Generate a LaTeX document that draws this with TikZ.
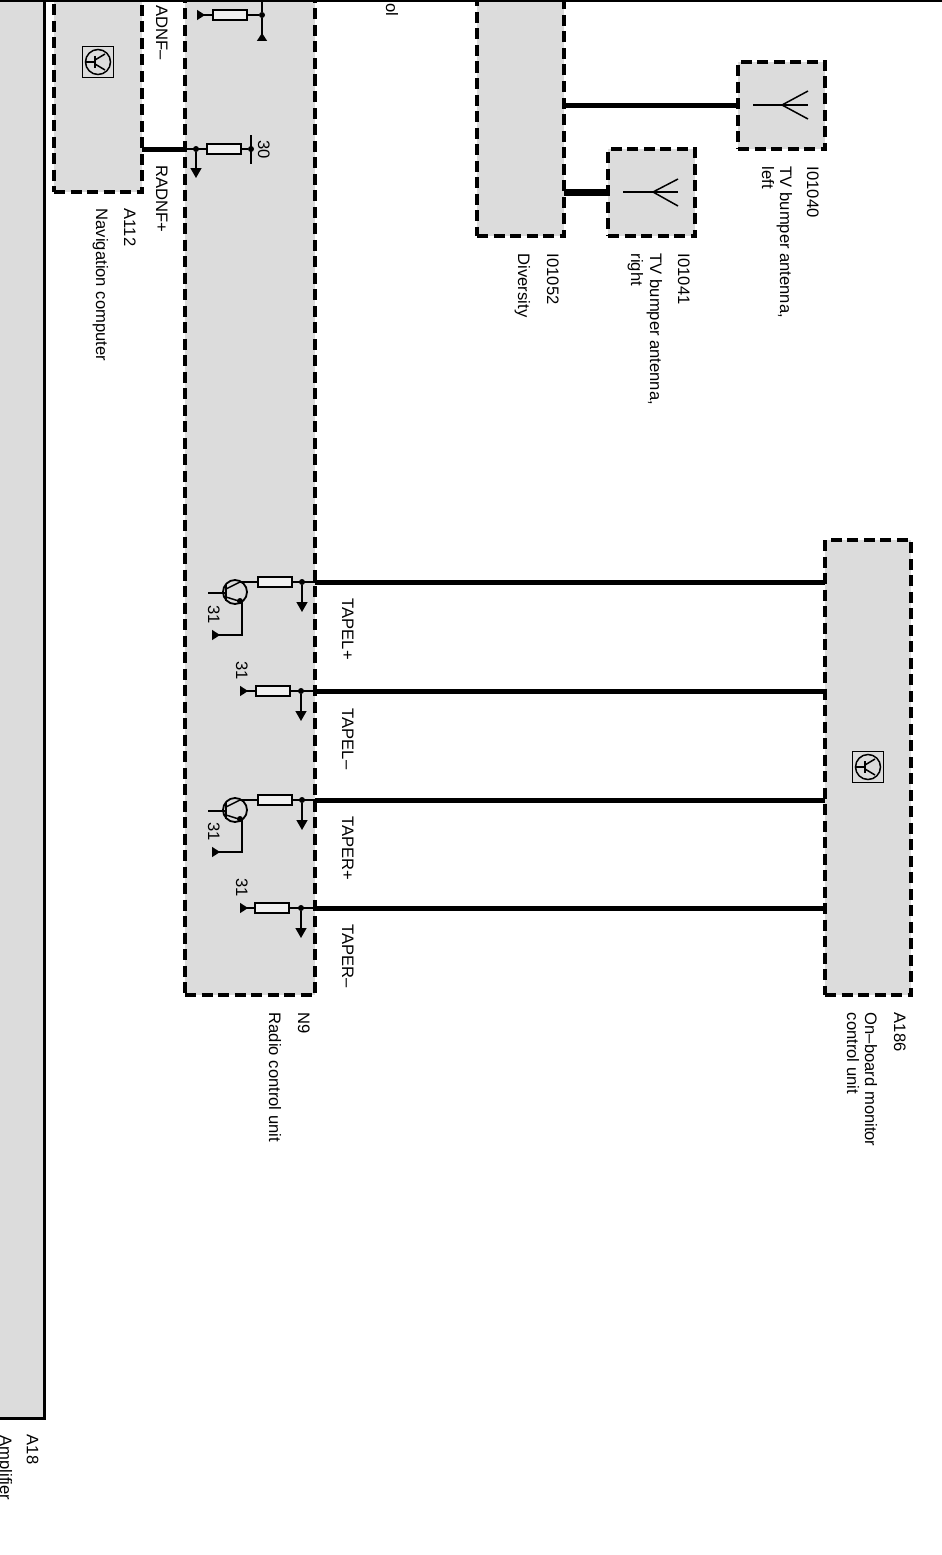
\documentclass[tikz,border=0pt]{standalone}
\usepackage{fontspec}
\setmainfont{Liberation Sans}
\usetikzlibrary{arrows.meta}

\definecolor{boxgray}{HTML}{DCDCDC}

\begin{document}
\begin{tikzpicture}[x=1pt,y=-1pt,line width=1.5pt,
	box/.style={draw,fill=boxgray,line width=3.4pt,dash pattern=on 11pt off 5.5pt,outer sep=0pt,inner sep=0pt,anchor=south west},
	wire/.style={line width=5pt},
	res/.style={draw,fill=boxgray!40,minimum width=34pt,minimum height=10pt,inner sep=0pt,outer sep=0pt},
	dotn/.style={circle,fill=black,minimum size=6pt,inner sep=0pt,outer sep=0pt},
	lab/.style={rotate=-90,anchor=base west,inner sep=0pt,font=\fontsize{16.6}{18}\selectfont},
	tipdown/.style={-{Triangle[length=10pt,width=11pt]}},
	tipgnd/.style={-{Triangle[reversed,length=8pt,width=10pt]}},
	tran/.pic={
		\node[circle,draw,line width=1.8pt,minimum size=24pt,inner sep=0pt] (-c) at (0,0) {};
		\coordinate (-col) at (5,-10);
		\coordinate (-em) at (7,10);
		\draw (-27,1) -- (-9,1);
		\draw[line width=2pt] (-9,-7) -- (-9,9);
		\draw (-9,-3) -- (-col);
		\draw (-9,5) -- (-em);
		\node[dotn] (-d) at (5,9) {};
	},
	icon/.pic={
		\node[draw,line width=1.8pt,minimum size=31pt,inner sep=0pt] (-s) at (0,0) {};
		\node[circle,draw,minimum size=25pt,inner sep=0pt] (-c) at (0,0) {};
		\draw (-12,0) -- (-3,0);
		\draw[line width=2pt] (-3,-6) -- (-3,6);
		\draw (-3,-2) -- (7,-8);
		\draw (-3,2) -- (7,8);
	}]
	\clip (0,0) rectangle (942,1555);
	% boxes
	\node[draw,fill=boxgray,line width=3pt,minimum width=64pt,minimum height=1438pt,inner sep=0pt,outer sep=0pt,anchor=south west] (a18) at (-20,1418) {};
	\node[box,minimum width=88pt,minimum height=212pt] (a112) at (54,192) {};
	\node[box,minimum width=130pt,minimum height=1015pt] (n9) at (185,995) {};
	\node[box,minimum width=87pt,minimum height=256pt] (diversity) at (477,236) {};
	\node[box,minimum width=87pt,minimum height=87pt] (tvright) at (608,236) {};
	\node[box,minimum width=87pt,minimum height=87pt] (tvleft) at (738,149) {};
	\node[box,minimum width=86pt,minimum height=455pt] (a186) at (825,995) {};
	\coordinate (topl) at (0,1);
	\coordinate (topr) at (942,1);
	\draw[line width=2.6pt] (topl) -- (topr);

	% icons
	\pic (icona) at (98,62) {icon};
	\pic (iconb) at (868,767) {icon};

	% antennas
	\coordinate (antl) at (753,105);
	\coordinate (antlf) at (782,105);
	\coordinate (antle) at (808,105);
	\coordinate (antlu) at (808,91);
	\coordinate (antld) at (808,119);
	\draw (antl) -- (antle);
	\draw (antlf) -- (antlu);
	\draw (antlf) -- (antld);
	\coordinate (antr) at (623,192);
	\coordinate (antrf) at (653,192);
	\coordinate (antre) at (678,192);
	\coordinate (antru) at (678,179);
	\coordinate (antrd) at (678,206);
	\draw (antr) -- (antre);
	\draw (antrf) -- (antru);
	\draw (antrf) -- (antrd);
	\draw[wire] (diversity.east |- antl) -- (tvleft.west |- antl);
	\draw[wire,line width=7pt] (diversity.east |- antr) -- (tvright.west |- antr);

	% RADNF-
	\node[res] (rradm) at (230,15) {};
	\node[dotn] (dradm) at (262,15) {};
	\coordinate (gradm) at (197,15);
	\coordinate (tradm) at (262,0);
	\coordinate (aradm) at (262,41);
	\draw[tipgnd] (rradm) -- (gradm);
	\draw (rradm) -- (dradm);
	\draw (tradm) -- (dradm);
	\draw[tipgnd] (dradm) -- (aradm);

	% RADNF+
	\node[res] (rradp) at (224,149) {};
	\node[dotn] (dradp) at (196,149) {};
	\node[dotn] (bradp) at (251,149) {};
	\coordinate (aradp) at (196,178);
	\coordinate (uradp) at (251,135);
	\coordinate (lradp) at (251,164);
	\draw[wire] (a112.east |- rradp) -- (n9.west |- rradp);
	\draw (n9.west |- rradp) -- (rradp);
	\draw (rradp) -- (bradp);
	\draw (uradp) -- (lradp);
	\draw[tipdown] (dradp) -- (aradp);

	% TAPEL+
	\node[res] (rla) at (275,582) {};
	\node[dotn] (dla) at (302,582) {};
	\coordinate (ala) at (302,612);
	\coordinate (gla) at (212,635);
	\pic (qla) at (235,592) {tran};
	\draw[wire] (n9.east |- rla) -- (a186.west |- rla);
	\draw (n9.east |- rla) -- (rla);
	\draw (rla) -- (qla-col);
	\draw[tipdown] (dla) -- (ala);
	\draw[tipgnd] (qla-em) |- (gla);

	% TAPEL-
	\node[res] (rlb) at (273,691) {};
	\node[dotn] (dlb) at (301,691) {};
	\coordinate (alb) at (301,721);
	\coordinate (glb) at (240,691);
	\draw[wire] (n9.east |- rlb) -- (a186.west |- rlb);
	\draw (n9.east |- rlb) -- (rlb);
	\draw[tipgnd] (rlb) -- (glb);
	\draw[tipdown] (dlb) -- (alb);

	% TAPER+
	\node[res] (rra) at (275,800) {};
	\node[dotn] (dra) at (302,800) {};
	\coordinate (ara) at (302,830);
	\coordinate (gra) at (212,852);
	\pic (qra) at (235,810) {tran};
	\draw[wire] (n9.east |- rra) -- (a186.west |- rra);
	\draw (n9.east |- rra) -- (rra);
	\draw (rra) -- (qra-col);
	\draw[tipdown] (dra) -- (ara);
	\draw[tipgnd] (qra-em) |- (gra);

	% TAPER-
	\node[res] (rrb) at (272,908) {};
	\node[dotn] (drb) at (301,908) {};
	\coordinate (arb) at (301,938);
	\coordinate (grb) at (240,908);
	\draw[wire] (n9.east |- rrb) -- (a186.west |- rrb);
	\draw (n9.east |- rrb) -- (rrb);
	\draw[tipgnd] (rrb) -- (grb);
	\draw[tipdown] (drb) -- (arb);

	% labels
	\node[lab] (tamp) at (0,1435) {Amplifier};
	\node[lab] (ta18) at (27,1434) {A18};
	\node[lab] (ta112) at (124,208) {A112};
	\node[lab] (tnav) at (96,208) {Navigation computer};
	\node[lab] (tadm) at (156,5) {ADNF--};
	\node[lab] (tadp) at (156,165) {RADNF+};
	\node[lab] (tthirty) at (258,140) {30};
	\node[lab] (tol) at (386,3) {ol};
	\node[lab] (tdiv) at (547,253) {I01052};
	\node[lab] (tdivn) at (518,253) {Diversity};
	\node[lab] (tri) at (678,253) {I01041};
	\node[lab] (trin) at (650,253) {TV bumper antenna,};
	\node[lab] (trit) at (631,253) {right};
	\node[lab] (tle) at (807,166) {I01040};
	\node[lab] (tlen) at (780,166) {TV bumper antenna,};
	\node[lab] (tlet) at (762,166) {left};
	\node[lab] (tgla) at (208,605) {31};
	\node[lab] (tglb) at (236,661) {31};
	\node[lab] (tgra) at (208,822) {31};
	\node[lab] (tgrb) at (236,878) {31};
	\node[lab] (tla) at (342,598) {TAPEL+};
	\node[lab] (tlb) at (342,708) {TAPEL--};
	\node[lab] (tra) at (342,816) {TAPER+};
	\node[lab] (trb) at (342,924) {TAPER--};
	\node[lab] (tn9) at (298,1012) {N9};
	\node[lab] (tn9n) at (269,1012) {Radio control unit};
	\node[lab] (ta186) at (894,1012) {A186};
	\node[lab] (tobm) at (865,1012) {On--board monitor};
	\node[lab] (tobc) at (847,1012) {control unit};
\end{tikzpicture}
\end{document}
